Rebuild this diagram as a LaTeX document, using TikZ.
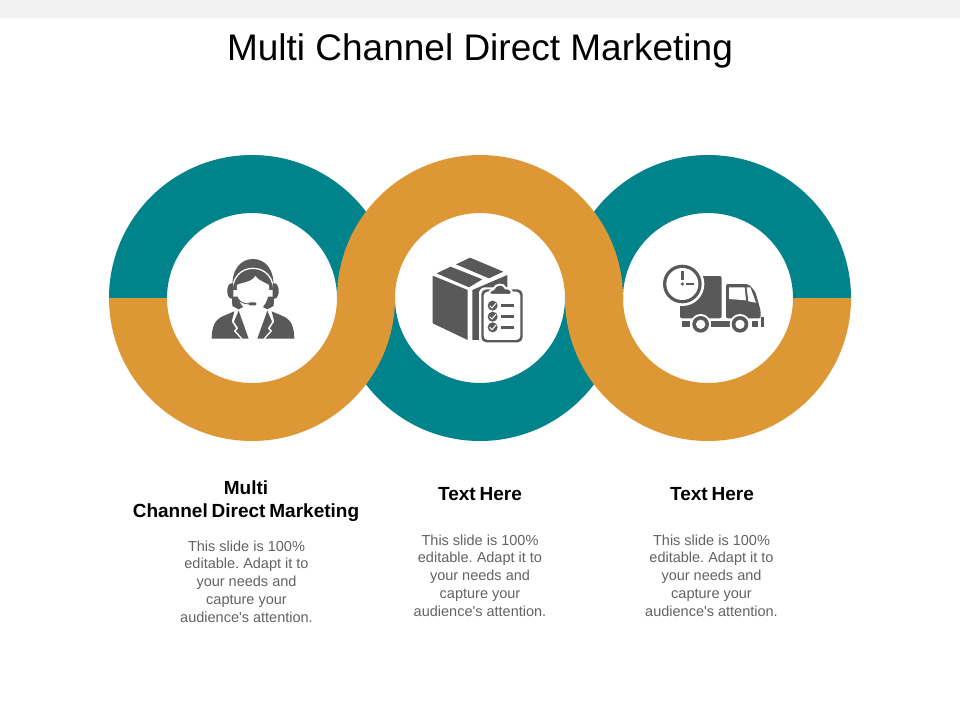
\documentclass[tikz,border=0pt]{standalone}
\usepackage{fontspec}
\setmainfont[Ligatures=TeXOff]{Liberation Sans}
\definecolor{tealc}{HTML}{00838A}
\definecolor{orangec}{HTML}{DD9835}
\definecolor{icong}{HTML}{595959}
\definecolor{bodyg}{HTML}{636363}
\definecolor{barg}{HTML}{F2F2F2}
\newcommand{\headfontcmd}{\fontsize{19}{23}\selectfont\bfseries\setlength{\spaceskip}{3.9pt}}
\tikzset{
  titletext/.style={font=\fontsize{37}{42}\selectfont,text=black,inner sep=0pt,anchor=center},
  headtext/.style={font=\headfontcmd,text=black,inner sep=0pt,align=center,anchor=center},
  bodytext/.style={font=\frenchspacing\fontsize{14.5}{17.8}\selectfont,text=bodyg,inner sep=0pt,align=center,anchor=center},
  zoomA/.style={shift={(190,240)},x=0.3333pt,y=-0.3333pt},
  zoomB/.style={shift={(420,245)},x=0.3333pt,y=-0.3333pt},
  zoomC/.style={shift={(650,250)},x=0.3333pt,y=-0.3333pt},
  ico/.style={fill=icong,draw=none},
  wht/.style={fill=white,draw=none},
}
\newcommand{\halfring}[4]{% centre x, start angle, end angle, colour
  \fill[#4] ({#1+143*cos(#2)},{298-143*sin(#2)}) arc[start angle=-#2,end angle=-#3,radius=143]
    -- ({#1+85*cos(#3)},{298-85*sin(#3)}) arc[start angle=-#3,end angle=-#2,radius=85] -- cycle;
}
\begin{document}
\begin{tikzpicture}[x=1pt,y=-1pt]
\useasboundingbox (0,0) rectangle (960,720);
\fill[white] (0,0) rectangle (960,720);
\fill[barg] (0,0) rectangle (960,18);
\node[titletext] (title) at (480,51) {Multi Channel Direct Marketing};
% rings
\halfring{252}{0}{180}{tealc}
\halfring{708}{0}{180}{tealc}
\halfring{480}{180}{360}{tealc}
\halfring{252}{180}{360}{orangec}
\halfring{708}{180}{360}{orangec}
\halfring{480}{0}{180}{orangec}
% person icon
\begin{scope}[zoomA]
  % jacket
  \fill[ico] (65,296) .. controls (66,262) and (72,240) .. (100,228) -- (133,214) -- (125,245) -- (138,265) -- (131,273) -- (152,296) -- cycle;
  \fill[ico] (313,296) .. controls (312,262) and (306,240) .. (278,228) -- (245,214) -- (253,245) -- (240,265) -- (247,273) -- (226,296) -- cycle;
  \fill[ico] (146,212) -- (176,296) -- (158,296) -- (138,273) -- (145,265) -- (132,245) -- cycle;
  \fill[ico] (232,212) -- (202,296) -- (220,296) -- (240,273) -- (233,265) -- (246,245) -- cycle;
  % neck sides
  \fill[ico] (126,170) -- (152,170) -- (165,198) -- (146,208) -- (127,198) -- cycle;
  \fill[ico] (252,170) -- (226,170) -- (213,198) -- (232,208) -- (251,198) -- cycle;
  % hair
  \fill[ico] (128,150) .. controls (122,85) and (155,57) .. (189,57) .. controls (223,57) and (256,85) .. (250,150) -- cycle;
  \draw[white,line width=1.3pt] (127,170) .. controls (122,110) and (155,85) .. (189,85) .. controls (223,85) and (256,110) .. (251,170);
  % ear cups
  \fill[ico] (123,130) .. controls (108,134) and (108,172) .. (123,176) -- (130,176) -- (130,130) -- cycle;
  \fill[ico] (255,130) .. controls (270,134) and (270,172) .. (255,176) -- (248,176) -- (248,130) -- cycle;
  % face
  \fill[wht] (141,135) .. controls (150,128) and (185,128) .. (196,108) .. controls (205,122) and (228,128) .. (237,135) .. controls (240,175) and (222,214) .. (189,214) .. controls (156,214) and (138,175) .. (141,135) -- cycle;
  % microphone
  \draw[icong,line width=0.9pt] (146,178) .. controls (150,188) and (165,192) .. (182,192);
  \fill[ico,rounded corners=1pt] (176,187) rectangle (199,196);
\end{scope}
% box icon
\begin{scope}[zoomB]
  \fill[ico] (38,92) -- (143,135) -- (143,285) -- (38,235) -- cycle;
  \fill[ico] (50,85) -- (92,65) -- (187,103) -- (147,127) -- cycle;
  \fill[ico] (108,58) -- (150,38) -- (250,80) -- (207,100) -- cycle;
  \fill[ico] (157,135) -- (262,90) -- (262,240) -- (220,285) -- (157,285) -- cycle;
  \fill[wht,rounded corners=6pt] (177,127) rectangle (314,298);
  \fill[ico,rounded corners=5pt] (184,133) rectangle (308,292);
  \fill[wht,rounded corners=4pt] (191,140) rectangle (301,285);
  \path[fill=icong,draw=white,line width=2pt] (215,150) .. controls (205,150) and (205,135) .. (220,133) .. controls (225,116) and (252,113) .. (257,130) .. controls (277,128) and (282,150) .. (268,150) -- cycle;
  \foreach \yy in {182,215,247}{
    \fill[ico] (218,\yy) circle[radius=15];
    \draw[white,line width=1pt] (209,\yy) -- (216,{\yy+7}) -- (228,{\yy-7});
    \fill[ico] (242,{\yy-5}) rectangle (282,{\yy+5});
  }
\end{scope}
% truck icon
\begin{scope}[zoomC]
  \fill[ico,rounded corners=2pt] (90,78) -- (215,78) -- (215,205) -- (90,205) -- cycle;
  \fill[ico,rounded corners=2pt] (228,102) -- (295,102) -- (316,125) -- (332,182) -- (332,205) -- (228,205) -- cycle;
  \fill[wht] (237,112) -- (284,112) -- (288,151) -- (237,147) -- cycle;
  \fill[wht] (290,112) -- (301,112) -- (318,158) -- (295,154) -- cycle;
  \fill[ico] (97,212) rectangle (120,232);
  \fill[ico] (183,212) rectangle (240,232);
  \fill[ico] (305,212) rectangle (325,232);
  \fill[ico] (333,200) rectangle (342,232);
  \foreach \xx in {152,270}{
    \fill[white] (\xx,223) circle[radius=31];
    \fill[ico] (\xx,223) circle[radius=25];
    \fill[white] (\xx,223) circle[radius=14];
  }
  \fill[white] (97,102) circle[radius=66];
  \fill[ico] (97,102) circle[radius=58];
  \fill[white] (97,102) circle[radius=48];
  \fill[ico] (92,62) rectangle (101,89);
  \fill[ico] (97,102) circle[radius=5.5];
  \fill[ico] (108,100) rectangle (131,105);
\end{scope}
% text
\node[headtext] (h1) at (246,501.5) {Multi\\Channel Direct Marketing};
\node[headtext] (h2) at (480,494.5) {Text Here};
\node[headtext] (h3) at (712,494.5) {Text Here};
\node[bodytext] (b1) at (246.5,581.5) {This slide is 100\%\\editable. Adapt it to\\your needs and\\capture your\\audience's attention.};
\node[bodytext] (b2) at (480,575.5) {This slide is 100\%\\editable. Adapt it to\\your needs and\\capture your\\audience's attention.};
\node[bodytext] (b3) at (711.5,575.5) {This slide is 100\%\\editable. Adapt it to\\your needs and\\capture your\\audience's attention.};
\end{tikzpicture}
\end{document}
